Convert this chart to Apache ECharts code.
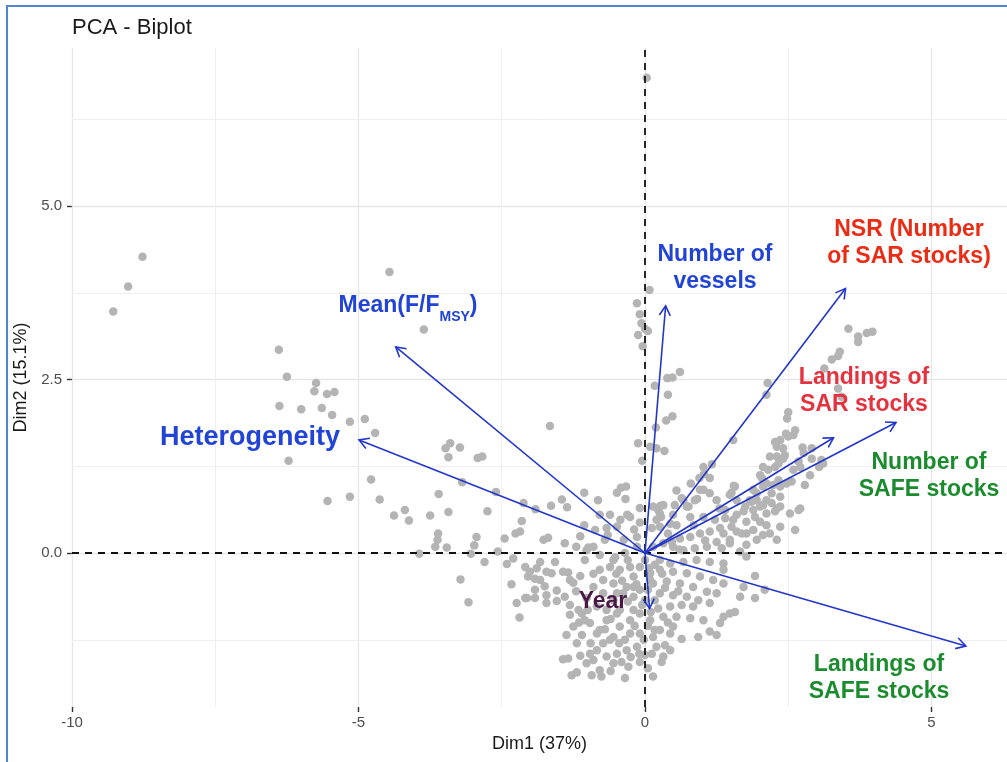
<!DOCTYPE html>
<html>
<head>
<meta charset="utf-8">
<title>PCA - Biplot</title>
<script src="https://cdn.jsdelivr.net/npm/echarts@6/dist/echarts.min.js"></script>
<style>
  html, body { margin: 0; padding: 0; background: #ffffff; }
  #chart { width: 1007px; height: 762px; }
</style>
</head>
<body>
<div id="chart"></div>
<script>
// ---- Individuals (Dim1, Dim2) ----
const individuals = [
  [-8.77,4.27],[-9.02,3.84],[-9.28,3.48],[-4.46,4.05],[-3.86,3.22],[-6.39,2.93],[-6.25,2.54],[-5.74,2.45],
  [-5.77,2.33],[-5.55,2.29],[-5.42,2.32],[-6.38,2.12],[-6.00,2.07],[-5.64,2.09],[-5.46,1.99],[-5.15,1.89],
  [-4.89,1.93],[-4.71,1.73],[-6.22,1.33],[-4.78,1.06],[-5.54,0.75],[-5.15,0.81],[-4.63,0.77],[-4.38,0.54],
  [-4.19,0.62],[-4.12,0.47],[-3.94,-0.01],[-1.66,1.83],[-3.48,1.51],[-3.40,1.58],[-3.23,1.52],[-3.43,1.38],
  [-2.92,1.37],[-2.84,1.39],[-3.19,1.02],[-2.60,0.88],[-3.60,0.85],[-3.43,0.59],[-3.75,0.54],[-2.75,0.60],
  [-2.12,0.72],[-1.91,0.63],[-2.15,0.46],[-2.26,0.28],[-2.18,0.31],[-2.45,0.21],[-2.94,0.23],[-3.61,0.28],
  [-3.62,0.19],[-3.66,0.09],[-3.46,0.08],[-2.98,0.11],[-1.69,0.22],[-1.45,0.77],[-1.36,0.66],[-1.64,0.68],
  [-1.06,0.87],[-0.49,0.87],[-0.42,0.94],[-0.33,0.96],[-0.34,0.78],[-0.09,0.65],[-0.61,0.55],[-0.31,0.55],
  [-0.43,0.48],[-0.49,0.38],[-0.19,0.34],[-0.09,0.44],[-1.06,0.40],[-1.13,0.24],[-1.40,0.14],[-0.99,0.08],
  [-0.65,0.26],[-0.37,0.19],[-0.14,0.23],[-0.14,3.60],[-0.09,3.44],[-0.06,3.31],[0.00,3.23],[-0.12,3.14],
  [-0.04,2.98],[-0.12,1.58],[-0.05,1.33],[0.08,3.79],[0.05,3.20],[0.61,2.61],[0.48,2.53],[0.39,2.52],
  [0.17,2.41],[0.40,2.28],[0.48,1.97],[0.37,1.91],[0.19,1.81],[0.09,1.53],[0.20,1.51],[0.34,1.47],
  [0.03,6.85],[0.27,0.68],[0.23,0.62],[0.28,0.52],[0.20,0.48],[0.12,0.36],[0.26,0.38],[0.44,0.42],
  [0.55,0.40],[0.67,0.76],[0.76,0.67],[0.91,0.78],[1.02,0.91],[1.03,1.14],[1.17,1.28],[1.54,1.63],
  [1.55,0.97],[1.51,0.87],[3.55,3.23],[3.72,3.12],[3.72,3.04],[3.87,3.17],[3.97,3.19],[3.40,2.90],
  [3.37,2.84],[3.26,2.79],[3.13,2.66],[2.14,2.45],[2.12,2.28],[3.43,2.25],[3.37,2.37],[2.50,2.03],
  [2.48,1.94],[2.62,1.77],[2.59,1.70],[2.50,1.68],[2.36,1.63],[2.30,1.53],[2.41,1.51],[2.44,1.41],
  [2.30,1.39],[2.18,1.39],[2.75,1.52],[2.91,1.51],[2.77,1.44],[2.91,1.36],[3.04,1.24],[3.11,1.29],
  [2.88,1.12],[2.71,1.24],[2.59,1.20],[2.27,1.24],[2.15,1.20],[2.06,1.24],[2.04,1.08],[2.12,1.00],
  [2.24,0.98],[2.36,0.96],[2.47,1.00],[2.21,0.86],[2.36,0.81],[2.12,0.76],[1.95,0.86],[1.86,0.74],
  [1.75,0.67],[1.89,0.62],[2.01,0.67],[2.53,0.57],[2.71,0.64],[1.57,0.96],[1.48,0.84],[1.60,0.76],
  [1.40,0.62],[1.25,0.76],[1.13,0.86],[0.96,0.91],[0.87,0.76],[0.73,0.67],[0.64,0.79],[0.52,0.69],
  [0.32,0.69],[1.02,1.24],[0.95,1.08],[1.13,1.08],[2.46,1.72],[2.27,1.60],[3.08,1.34],[2.41,1.36],
  [2.33,1.29],[2.68,1.32],[2.79,0.98],[2.01,1.12],[2.33,1.05],[2.56,1.03],[2.06,0.96],[1.89,0.91],
  [1.83,0.76],[1.95,0.76],[2.06,0.69],[2.21,0.72],[2.27,0.60],[2.36,0.67],[1.72,0.60],[1.54,0.48],
  [1.77,0.45],[1.92,0.52],[2.01,0.45],[2.12,0.40],[2.36,0.38],[2.62,0.33],[2.18,0.28],[1.95,0.19],
  [1.77,0.28],[1.60,0.31],[1.48,0.19],[1.37,0.28],[0.14,0.67],[0.26,0.57],[0.49,0.55],[0.79,0.52],
  [1.02,0.52],[1.22,0.48],[1.40,0.50],[2.12,0.57],[2.30,0.64],[2.68,0.62],[2.30,0.19],[2.06,0.26],
  [1.89,0.33],[1.69,0.28],[1.51,0.38],[1.31,0.36],[1.13,0.31],[0.96,0.28],[0.79,0.23],[0.61,0.21],
  [0.47,0.16],[0.32,0.14],[0.14,0.09],[1.25,0.16],[1.48,0.14],[1.77,0.12],[1.66,0.02],[1.77,-0.05],
  [1.34,0.07],[1.08,0.09],[0.87,0.07],[0.67,0.04],[0.49,0.09],[0.26,-0.10],[0.44,-0.15],[0.67,-0.13],
  [0.90,-0.10],[1.13,-0.13],[1.37,-0.15],[1.37,-0.24],[1.92,-0.33],[2.09,-0.53],[1.72,-0.49],[1.37,-0.44],
  [1.19,-0.39],[0.96,-0.34],[0.73,-0.29],[0.49,-0.27],[0.26,-0.24],[0.09,-0.29],[0.14,-0.44],[0.38,-0.41],
  [0.61,-0.44],[0.84,-0.49],[1.08,-0.56],[1.25,-0.58],[1.66,-0.63],[1.92,-0.65],[0.26,-0.58],[0.49,-0.61],
  [0.73,-0.63],[0.93,-0.68],[1.13,-0.72],[0.84,-0.77],[0.64,-0.75],[0.44,-0.77],[0.23,-0.80],[0.32,-0.92],
  [0.55,-0.92],[0.79,-0.94],[1.02,-0.97],[1.37,-0.92],[1.48,-0.87],[1.57,-0.85],[1.31,-1.01],[1.13,-1.13],
  [1.25,-1.18],[0.93,-1.21],[0.64,-1.24],[0.44,-1.16],[0.26,-1.11],[0.14,-1.21],[0.49,-1.06],[0.20,-1.35],
  [0.32,-1.49],[0.12,-1.45],[0.29,-1.57],[0.14,-1.78],[-3.04,-0.01],[-2.57,0.02],[-1.20,0.09],[-1.02,0.04],
  [-0.14,0.09],[-0.90,0.09],[-3.22,-0.38],[-3.08,-0.71],[-2.80,-0.13],[-2.41,-0.16],[-2.30,-0.08],[-2.09,-0.20],
  [-1.83,-0.13],[-1.57,-0.13],[-2.01,-0.27],[-1.92,-0.37],[-2.33,-0.45],[-1.72,-0.27],[-1.34,-0.28],[-1.75,-0.48],
  [-1.54,-0.54],[-1.25,-0.43],[-1.13,-0.33],[-2.24,-0.72],[-2.06,-0.65],[-1.92,-0.65],[-1.72,-0.72],[-1.54,-0.69],
  [-1.40,-0.63],[-1.31,-0.75],[-2.19,-0.93],[-1.31,-0.89],[-1.16,-0.82],[-1.05,-0.97],[-1.25,-1.06],[-1.37,-1.18],
  [-1.10,-1.18],[-1.19,-1.30],[-1.43,-1.53],[-1.34,-1.52],[-1.13,-1.48],[-1.02,-1.59],[-0.90,-1.54],[-0.79,-1.69],
  [-0.93,-1.76],[-1.28,-1.76],[-1.19,-1.72],[-0.76,-1.78],[-0.84,-1.40],[-0.73,-1.30],[-0.55,-1.21],[-0.79,-1.11],
  [-0.67,-0.97],[-0.49,-0.87],[-0.73,-0.39],[-0.90,-0.49],[-0.73,-0.58],[-0.55,-0.44],[-0.49,-0.58],[-0.32,-0.49],
  [-0.20,-0.34],[-0.09,-0.20],[-0.26,-0.20],[-0.44,-0.24],[-0.61,-0.20],[-0.79,-0.24],[-0.20,-0.63],[-0.09,-0.87],
  [-0.26,-0.97],[-0.44,-1.06],[-0.26,-1.16],[-0.09,-1.16],[-0.14,-1.35],[-0.32,-1.40],[-0.49,-1.45],[-0.41,-1.57],
  [-0.29,-1.64],[-0.55,-1.59],[-0.67,-1.49],[-0.84,-1.16],[-0.96,-1.01],[-1.10,-0.87],[-1.02,-0.65],[-0.84,-0.77],
  [-0.67,-0.82],[-0.20,-0.82],[-0.44,-0.82],[-0.55,-0.68],[-0.38,-0.58],[-0.20,-0.49],[-0.96,-1.45],[-1.77,0.19],
  [-1.89,-0.22],[-2.04,-0.34],[-1.83,-0.39],[-1.63,-0.29],[-1.43,-0.27],[-1.92,-0.53],[-1.72,-0.61],[-2.09,-0.65],
  [-1.31,-0.39],[0.00,-0.10],[0.05,-0.53],[0.00,-0.68],[0.09,-0.97],[-0.02,-1.25],[0.17,-0.68],[0.00,-1.47],
  [-0.09,-1.57],[0.05,-1.66],[-0.61,-1.25],[-0.35,-1.80],[0.17,-0.17],[0.09,-0.39],[-0.09,-0.53],[0.17,-1.11],
  [0.35,-1.33],[0.44,-1.40],[-0.79,-0.03],[-0.52,-0.06],[-0.35,0.00],[-0.70,0.19],[-0.87,0.33],[-0.79,0.55],
  [-0.82,0.76],[-0.67,0.36],[-0.26,0.52],
  [-0.55,-0.10],[-0.40,-0.40],[-0.15,-0.45],[-0.30,-0.70],[-0.05,-0.75],[-0.60,-0.95],[-0.35,-1.25],[-0.18,-1.05],
  [-0.45,-1.30],[-0.70,-1.10],[-0.25,-1.50],[-0.10,-1.45],[-0.60,-1.70],[0.07,-0.22],[0.10,-0.85],[0.35,-0.50],
  [0.58,-0.55],[0.40,-1.00],[0.30,-0.30],[0.05,-1.05],[-0.90,-0.30],[-1.05,-0.10],[-1.20,-0.55],[-1.00,-0.82],
  [-0.95,-1.30],[-1.15,-1.00],[-0.50,-0.30],[-0.30,-0.10],[0.60,0.05],[0.40,0.28],[0.85,0.40],[1.05,0.18],
  [1.60,0.55],[1.30,0.64],[0.55,0.90],[0.80,1.00]
];

// ---- Variables (loadings, scaled) ----
const variableNames = [
  'Heterogeneity', 'Mean(F/FMSY)', 'Number of vessels', 'NSR (Number of SAR stocks)',
  'Landings of SAR stocks', 'Number of SAFE stocks', 'Landings of SAFE stocks', 'Year'
];
const variableDim1 = [-4.99, -4.35, 0.36, 3.50, 3.29, 4.38, 5.60, 0.08];
const variableDim2 = [ 1.63,  2.97, 3.56, 3.81, 1.66, 1.88, -1.34, -0.80];

// ---- Axis ticks ----
const xTickValues = [-10, -5, 0, 5];
const yTickValues = [0, 2.5, 5];
const xMinorGrid = [-7.5, -2.5, 2.5];
const yMinorGrid = [-1.25, 1.25, 3.75, 6.25];

const FONT = '"Liberation Sans", Arial, Helvetica, sans-serif';
const ARROW = '#2236cc';
const BLUE = '#2144d6';
const RED = '#ea2c14';
const RED2 = '#e5323f';
const GREEN = '#1b8c2e';
const PURPLE = '#4a1846';

const chart = echarts.init(document.getElementById('chart'), null, { renderer: 'canvas' });

const gridLines = [].concat(
  xTickValues.map(v => ({ xAxis: v, lineStyle: { color: '#e6e6e6', width: 1.3 } })),
  yTickValues.map(v => ({ yAxis: v, lineStyle: { color: '#e6e6e6', width: 1.3 } })),
  xMinorGrid.map(v => ({ xAxis: v, lineStyle: { color: '#efefef', width: 1 } })),
  yMinorGrid.map(v => ({ yAxis: v, lineStyle: { color: '#efefef', width: 1 } }))
);

function arrowItem(params, api) {
  const o = api.coord([0, 0]);
  const t = api.coord([api.value(0), api.value(1)]);
  const ang = Math.atan2(t[1] - o[1], t[0] - o[0]);
  const len = 11, spread = Math.PI / 6;
  const p1 = [t[0] - len * Math.cos(ang - spread), t[1] - len * Math.sin(ang - spread)];
  const p2 = [t[0] - len * Math.cos(ang + spread), t[1] - len * Math.sin(ang + spread)];
  return {
    type: 'group',
    children: [
      { type: 'line', shape: { x1: o[0], y1: o[1], x2: t[0], y2: t[1] },
        style: { stroke: ARROW, lineWidth: 1.6 } },
      { type: 'polyline', shape: { points: [p1, t, p2] },
        style: { stroke: ARROW, lineWidth: 1.6, fill: null } }
    ]
  };
}

function label(x, y, text, color, size) {
  return {
    type: 'text', x: x, y: y, z: 20,
    style: {
      text: text, fill: color, align: 'center', verticalAlign: 'middle',
      font: 'bold ' + size + 'px ' + FONT, lineHeight: 27
    }
  };
}

const hiddenLine = { show: true, onZero: false, lineStyle: { color: 'rgba(0,0,0,0)', width: 0 } };

const option = {
  animation: false,
  backgroundColor: '#ffffff',
  title: {
    text: 'PCA - Biplot', left: 67, top: 12,
    textStyle: { fontFamily: FONT, fontSize: 22, fontWeight: 'normal', color: '#1a1a1a' }
  },
  grid: { left: 72, right: 0, top: 48, bottom: 55, containLabel: false },
  xAxis: {
    type: 'value', min: -10, max: 6.318,
    axisLine: hiddenLine,
    splitLine: { show: false },
    axisTick: { show: true, customValues: xTickValues, length: 5, lineStyle: { color: '#333333', width: 1.4 } },
    axisLabel: { customValues: xTickValues, color: '#4d4d4d', fontSize: 15, margin: 8, fontFamily: FONT },
    name: 'Dim1 (37%)', nameLocation: 'middle', nameGap: 26,
    nameTextStyle: { fontFamily: FONT, fontSize: 18, color: '#1a1a1a' }
  },
  yAxis: {
    type: 'value', min: -2.219, max: 7.277,
    axisLine: hiddenLine,
    splitLine: { show: false },
    axisTick: { show: true, customValues: yTickValues, length: 5, lineStyle: { color: '#333333', width: 1.4 } },
    axisLabel: { customValues: yTickValues, color: '#4d4d4d', fontSize: 15, margin: 10, fontFamily: FONT,
      formatter: v => v.toFixed(1) },
    name: 'Dim2 (15.1%)', nameLocation: 'middle', nameGap: 34,
    nameTextStyle: { fontFamily: FONT, fontSize: 18, color: '#1a1a1a' }
  },
  series: [
    {
      // panel grid
      type: 'line', data: [], silent: true, z: 1,
      markLine: { silent: true, symbol: 'none', z: 1, animation: false, label: { show: false },
        lineStyle: { type: 'solid' }, data: gridLines }
    },
    {
      type: 'scatter', data: individuals, symbolSize: 8.5, silent: true, z: 2,
      itemStyle: { color: '#b4b4b4', opacity: 1 }
    },
    {
      // origin reference lines
      type: 'line', data: [], silent: true, z: 3,
      markLine: { silent: true, symbol: 'none', z: 3, animation: false, label: { show: false },
        lineStyle: { color: '#111111', width: 1.8, type: [7, 6] },
        data: [{ xAxis: 0 }, { yAxis: 0 }] }
    },
    {
      type: 'custom', coordinateSystem: 'cartesian2d', silent: true, z: 4, clip: false,
      encode: { x: 0, y: 1 },
      data: variableNames.map((n, i) => [variableDim1[i], variableDim2[i]]),
      renderItem: arrowItem
    }
  ],
  graphic: [
    { type: 'line', z: 30, shape: { x1: 7, y1: 6, x2: 7, y2: 762 }, style: { stroke: '#4f86d1', lineWidth: 2 } },
    { type: 'line', z: 30, shape: { x1: 6, y1: 6, x2: 1007, y2: 6 }, style: { stroke: '#4f86d1', lineWidth: 2 } },
    label(250, 438, 'Heterogeneity', BLUE, 27),
    {
      type: 'text', x: 408, y: 306, z: 20,
      style: {
        text: '{m|Mean(F/F}{s|MSY}{m|)}', align: 'center', verticalAlign: 'middle',
        rich: {
          m: { fill: BLUE, fontFamily: FONT, fontWeight: 'bold', fontSize: 23, lineHeight: 24 },
          s: { fill: BLUE, fontFamily: FONT, fontWeight: 'bold', fontSize: 14, lineHeight: 14, padding: [22, 0, 0, 0] }
        }
      }
    },
    label(715, 268, 'Number of\nvessels', BLUE, 23),
    label(909, 243, 'NSR (Number\nof SAR stocks)', RED, 23),
    label(864, 391, 'Landings of\nSAR stocks', RED2, 23),
    label(929, 476, 'Number of\nSAFE stocks', GREEN, 23),
    label(879, 678, 'Landings of\nSAFE stocks', GREEN, 23),
    label(603, 602, 'Year', PURPLE, 23)
  ]
};

chart.setOption(option);
</script>
</body>
</html>
